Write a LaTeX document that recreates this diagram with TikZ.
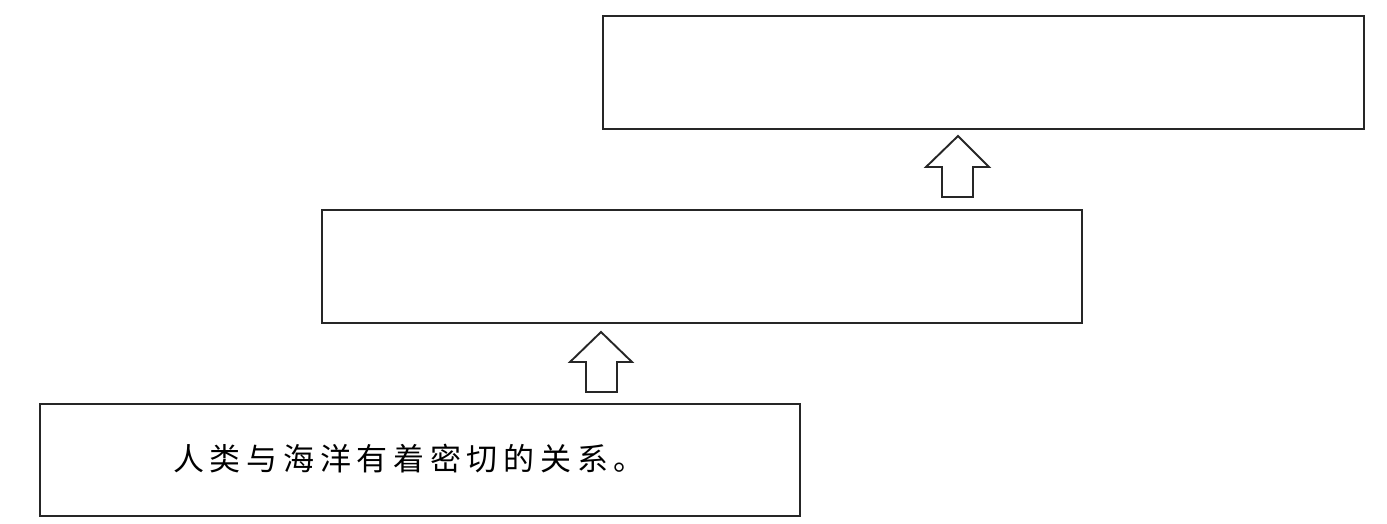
\documentclass[tikz,border=0pt]{standalone}
\usepackage{fontspec}
\newfontfamily\cjk[LetterSpace=18.5]{Noto Sans CJK SC}
\begin{document}
\begin{tikzpicture}[x=1pt,y=-1pt,
  box/.style={draw=black!85,line width=2.2pt,fill=none},
  uparrow/.style={draw=black!85,line width=1.9pt,line join=miter,fill=white}]
\useasboundingbox[fill=white] (0,0) rectangle (1387,524);
% boxes
\draw[box] (603,16) rectangle (1364,129);
\draw[box] (322,210) rectangle (1082,323);
\draw[box] (40,404) rectangle (800,516);
\coordinate (topbox) at (983,72);
\coordinate (midbox) at (702,266);
\coordinate (botbox) at (420,460);
% arrows
\draw[uparrow] (958,136) -- (989,167) -- (973,167) -- (973,197) -- (942,197) -- (942,167) -- (926,167) -- cycle;
\draw[uparrow] (601,332) -- (632,362) -- (617,362) -- (617,392) -- (586,392) -- (586,362) -- (570,362) -- cycle;
% text
\node[font=\cjk\fontsize{31}{34}\selectfont,inner sep=0pt] (t) at (409,459) {人类与海洋有着密切的关系。};
\end{tikzpicture}
\end{document}
